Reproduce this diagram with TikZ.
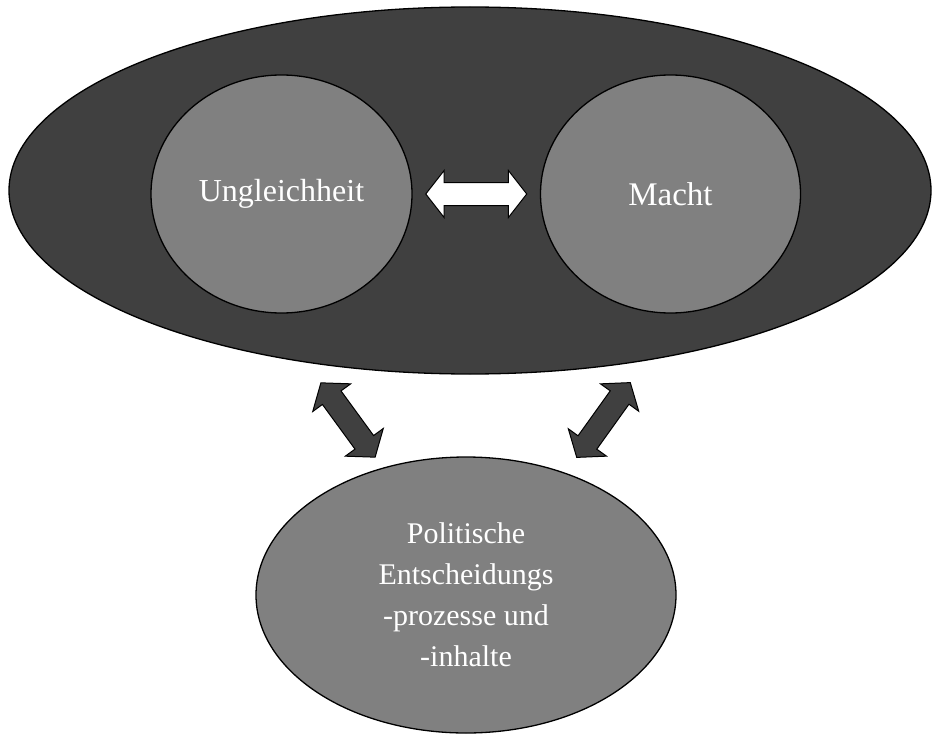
\documentclass[tikz,border=0pt]{standalone}
\usepackage{fontspec}
\setmainfont{Liberation Serif}
\usepackage{tikz}
\usetikzlibrary{shapes.geometric,shapes.arrows}

\definecolor{darkfill}{HTML}{404040}
\definecolor{midfill}{HTML}{808080}

\tikzset{
	ellbox/.style={ellipse, draw=black, line width=1.3pt, inner sep=0pt, text=white, align=center},
	blockarrow/.style={double arrow, draw=black, line width=1pt, inner sep=11pt,
		double arrow head extend=12pt, double arrow tip angle=104}
}

\begin{document}
\begin{tikzpicture}[x=1pt, y=-1pt]
		\useasboundingbox (0,0) rectangle (933,738);
		
		\node (ellouter) [ellbox, fill=darkfill, minimum width=922pt, minimum height=367pt] at (470,190.5) {};
		
		\node (ellungleich) [ellbox, fill=midfill, minimum width=261pt, minimum height=238pt, font=\fontsize{32}{38}\selectfont] at (281.5,194) {Ungleichheit};
		
		\node (ellmacht) [ellbox, fill=midfill, minimum width=260pt, minimum height=238pt, font=\fontsize{33}{38}\selectfont] at (670.5,194) {Macht};
		
		\node (ellpolitik) [ellbox, fill=midfill, minimum width=420pt, minimum height=276pt, font=\fontsize{30}{41}\selectfont] at (466,595) {Politische\\Entscheidungs\\-prozesse und\\-inhalte};
		
		\coordinate (lefttop) at (321,383);
		\coordinate (leftbottom) at (375,457);
		\coordinate (righttop) at (630,383);
		\coordinate (rightbottom) at (577,457);
		
		\path (ellungleich.east) -- (ellmacht.west) node [midway, blockarrow, fill=white, minimum height=101pt] {};
		\path (lefttop) -- (leftbottom) node [midway, sloped, blockarrow, fill=darkfill, minimum height=92pt] {};
		\path (righttop) -- (rightbottom) node [midway, sloped, blockarrow, fill=darkfill, minimum height=92pt] {};
		
		\end{tikzpicture}
\end{document}
